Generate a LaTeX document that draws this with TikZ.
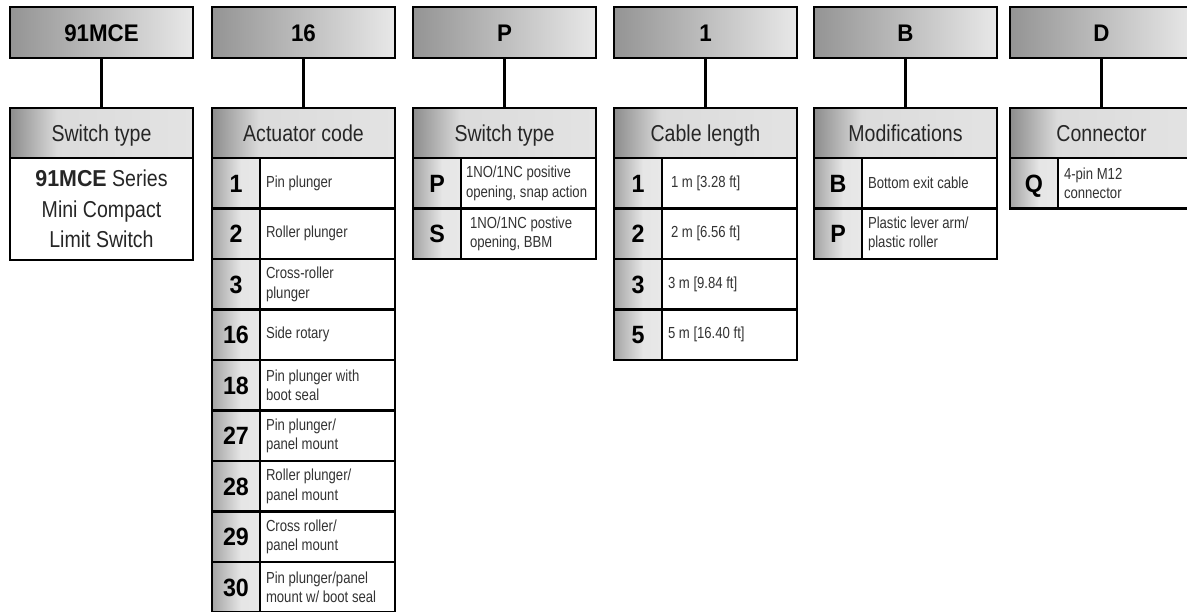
\documentclass[tikz,border=0pt]{standalone}
\usepackage{fontspec}
\setmainfont{Liberation Sans}[FakeStretch=0.85]
\newfontfamily\codefont{Liberation Sans}[FakeStretch=0.93]
\newfontfamily\notefont{Liberation Sans}[FakeStretch=0.82]
\usetikzlibrary{positioning}

% grey fades, dark on the left
\pgfdeclarehorizontalshading{topshade}{100bp}{color(0bp)=(black!42); color(25bp)=(black!42); color(75bp)=(black!9); color(100bp)=(black!9)}
\pgfdeclarehorizontalshading{headshade}{100bp}{color(0bp)=(black!45); color(25bp)=(black!45); color(38bp)=(black!14); color(75bp)=(black!11); color(100bp)=(black!11)}
\pgfdeclarehorizontalshading{codeshade}{100bp}{color(0bp)=(black!36); color(25bp)=(black!36); color(55bp)=(black!10); color(75bp)=(black!9); color(100bp)=(black!9)}

\begin{document}
\begin{tikzpicture}[x=1pt, y=-1pt,
    box/.style={draw, line width=2.4pt, inner sep=0pt, outer sep=0pt, anchor=north west},
    topbox/.style={box, shade, shading=topshade, minimum width=183pt, minimum height=51pt,
        text height=17pt, text depth=0pt,
        font=\codefont\bfseries\fontsize{24}{28}\selectfont},
    headbox/.style={box, shade, shading=headshade, minimum width=183pt, minimum height=50pt,
        text height=16.5pt, text depth=0pt,
        text=black!85, font=\fontsize{23}{28}\selectfont},
    bodybox/.style={box, fill=white, minimum width=183pt, minimum height=102pt, align=center,
        text=black!85, font=\fontsize{23}{30.5}\selectfont},
    codecell/.style={box, shade, shading=codeshade, minimum width=48pt, minimum height=50.5pt,
        text height=18pt, text depth=0pt,
        font=\codefont\bfseries\fontsize{25}{28}\selectfont},
    textcell/.style={draw, line width=2.4pt, outer sep=0pt, fill=white, minimum height=50.5pt,
        text width=123pt, inner xsep=6pt, inner ysep=0pt, align=flush left,
        text=black!80, font=\notefont\fontsize{16}{19.5}\selectfont},
    link/.style={line width=2.4pt}]

    \useasboundingbox (0,0) rectangle (1187,611);
    \clip (0,0) rectangle (1187,611);
    \fill[white] (0,0) rectangle (1187,611);

    % Code boxes
    \node[topbox] (top1) at (10,7) {91MCE};
    \node[topbox] (top2) at (212,7) {16};
    \node[topbox] (top3) at (413,7) {P};
    \node[topbox] (top4) at (614,7) {1};
    \node[topbox] (top5) at (814,7) {B};
    \node[topbox] (top6) at (1010,7) {D};

    % Headers
    \node[headbox] (head1) at (10,108) {Switch type};
    \node[headbox] (head2) at (212,108) {Actuator code};
    \node[headbox] (head3) at (413,108) {Switch type};
    \node[headbox] (head4) at (614,108) {Cable length};
    \node[headbox] (head5) at (814,108) {Modifications};
    \node[headbox] (head6) at (1010,108) {Connector};

    % Links
    \foreach \i in {1,...,6}
        \draw[link] (top\i) -- (head\i);

    % Series
    \node[bodybox] (series) at (10,158) {{\codefont\bfseries 91MCE} Series\\Mini Compact\\Limit Switch};

    % Actuator codes
    \foreach \code/\desc [count=\k] in {1/{Pin plunger}, 2/{Roller plunger},
        3/{Cross-roller\\plunger}, 16/{Side rotary}, 18/{Pin plunger with\\boot seal},
        27/{Pin plunger/\\panel mount}, 28/{Roller plunger/\\panel mount},
        29/{Cross roller/\\panel mount}, 30/{Pin plunger/panel\\mount w/ boot seal}}
    {
        \node[codecell] (act\k) at (212,{158+50.5*(\k-1)}) {\code};
        \node[textcell, right=0pt of act\k] (actd\k) {\desc};
    }

    % Switch types
    \foreach \code/\desc [count=\k] in {P/{1NO/1NC positive\\opening, snap action},
        S/{\hspace*{4pt}1NO/1NC postive\\\hspace*{4pt}opening, BBM}}
    {
        \node[codecell] (sw\k) at (413,{158+50.5*(\k-1)}) {\code};
        \node[textcell, right=0pt of sw\k, inner xsep=5pt, text width=125pt] (swd\k) {\desc};
    }

    % Cable lengths
    \foreach \code/\desc [count=\k] in {1/{\hspace*{3pt}1 m [3.28 ft]}, 2/{\hspace*{3pt}2 m [6.56 ft]},
        3/{3 m [9.84 ft]}, 5/{5 m [16.40 ft]}}
    {
        \node[codecell] (cab\k) at (614,{158+50.5*(\k-1)}) {\code};
        \node[textcell, right=0pt of cab\k] (cabd\k) {\desc};
    }

    % Modifications
    \foreach \code/\desc [count=\k] in {B/{Bottom exit cable}, P/{Plastic lever arm/\\plastic roller}}
    {
        \node[codecell] (mod\k) at (814,{158+50.5*(\k-1)}) {\code};
        \node[textcell, right=0pt of mod\k] (modd\k) {\desc};
    }

    % Connector
    \node[codecell] (con1) at (1010,158) {Q};
    \node[textcell, right=0pt of con1] (cond1) {4-pin M12\\connector};
\end{tikzpicture}
\end{document}
